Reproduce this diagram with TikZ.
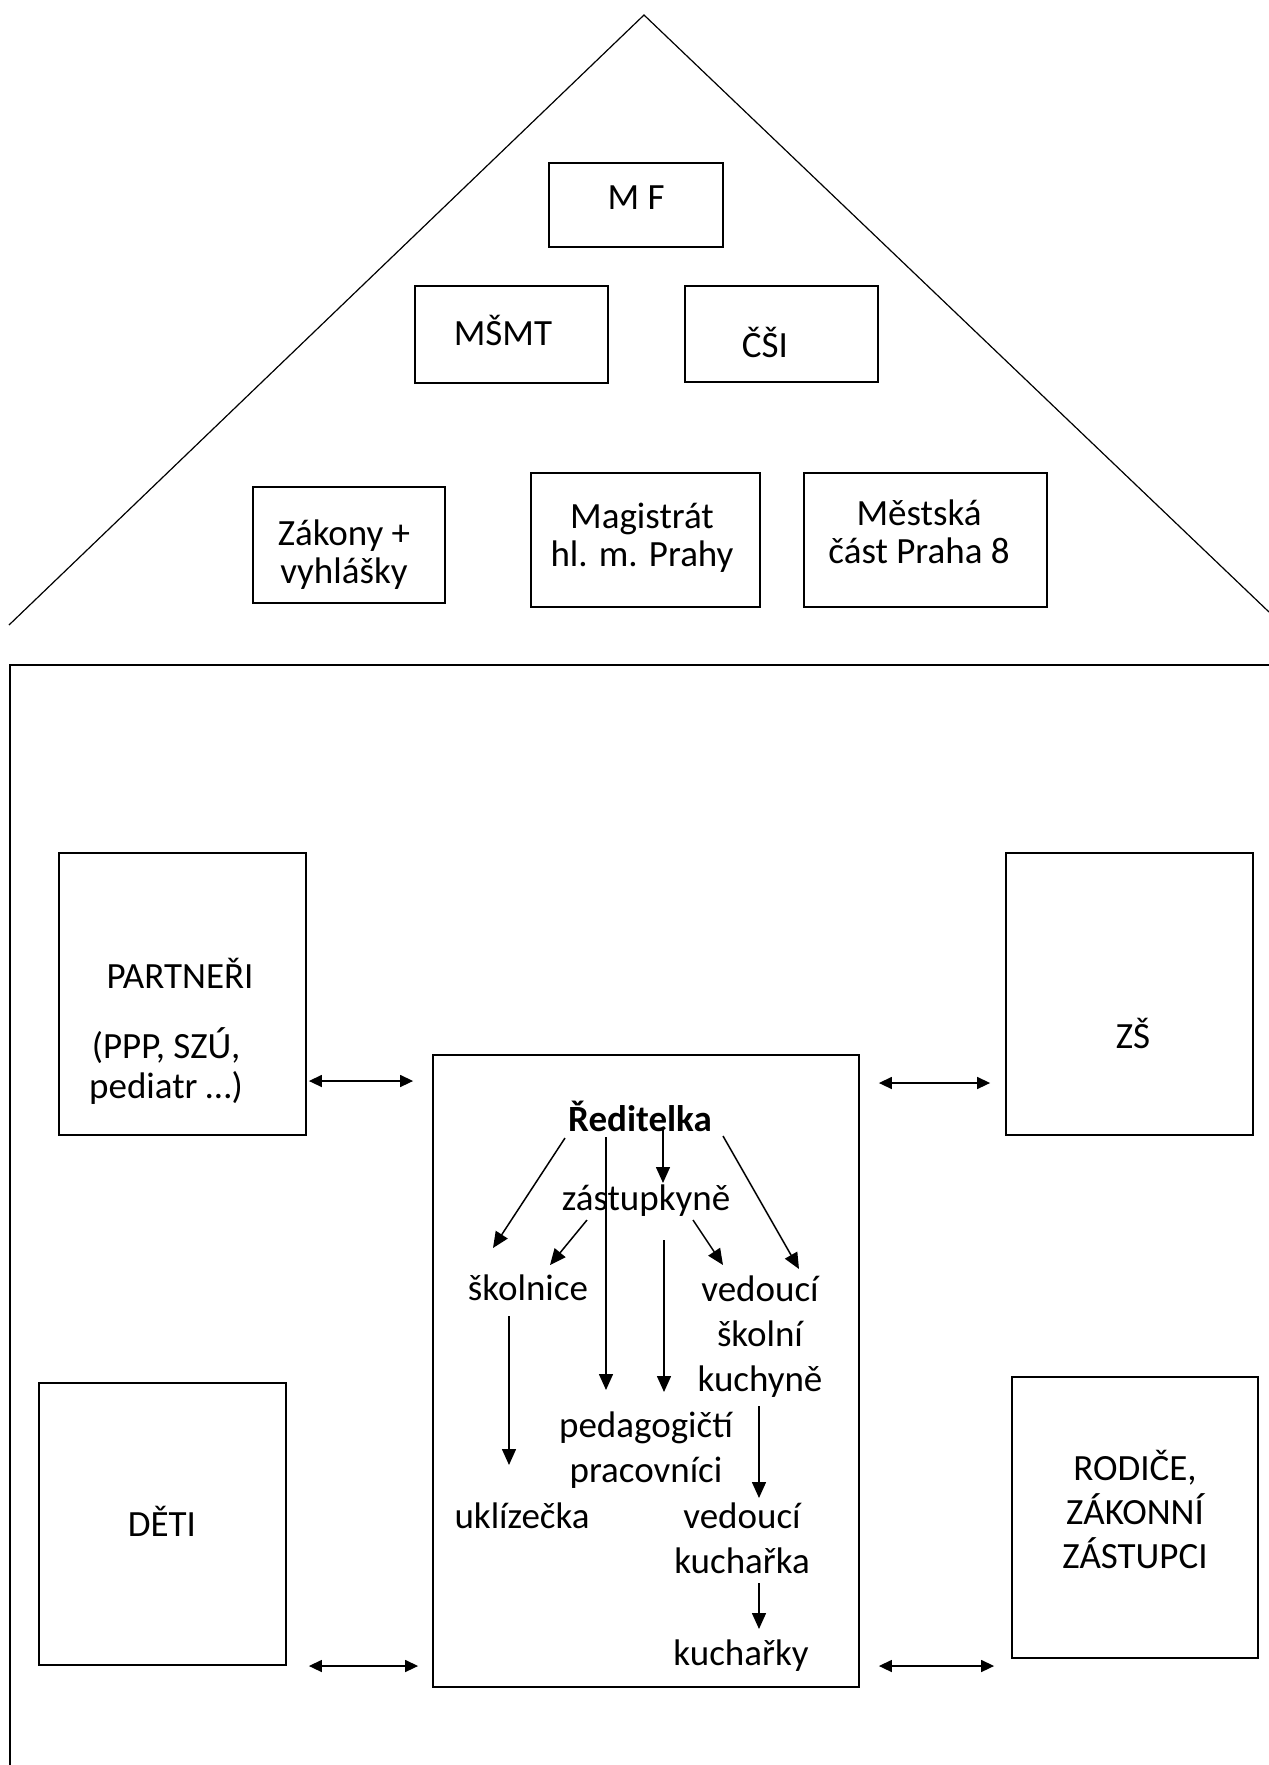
\documentclass[tikz,border=0pt]{standalone}
\usepackage{fontspec}
\setmainfont{Carlito}
\usetikzlibrary{arrows.meta, positioning}
\def\txtsize{\fontsize{37}{45}\selectfont}

\begin{document}
\begin{tikzpicture}[x=1pt,y=-1pt,line width=1.5pt]
    \tikzstyle{box}=[draw, rectangle, line width=1.8pt, inner sep=0pt]
    \tikzstyle{txt}=[anchor=base, align=center, inner sep=0pt, font=\txtsize]
    \tikzstyle{tight}=[txt, font=\fontsize{37}{38}\selectfont]
    \tikzstyle{arr}=[arrows={-Triangle[length=16pt,width=14pt]}]
    \tikzstyle{biarr}=[arrows={Triangle[length=13pt,width=12pt]-Triangle[length=13pt,width=12pt]}]

    \useasboundingbox (0,0) rectangle (1269,1765);

    % roof + walls
    \draw[line width=1.2pt] (9,625) -- (644,15) -- (1269,612);
    \draw (1269,665) -- (10,665) -- (10,1765);

    \foreach \n/\x/\y/\w/\h in {mf/636/205/174/84, msmt/511.5/334.5/193/97, csi/781.5/334/193/96,
        zak/349/545/192/116, mag/645.5/540/229/134, mc/925.5/540/243/134,
        part/182.5/994/247/282, zs/1129.5/994/247/282, deti/162.5/1524/247/282,
        rod/1135/1517.5/246/281, skola/646/1371/426/632}{
        \node[box, minimum width=\w pt, minimum height=\h pt] (B-\n) at (\x,\y) {};
    }

    % base = last line
    \node[txt] (T-mf) at (636,209) {M F};
    \node[txt] (T-msmt) at (503,345) {MŠMT};
    \node[txt] (T-csi) at (765,357) {ČŠI};
    \node[tight] (T-zak) at (344,583) {Zákony +\\vyhlášky};
    \node[tight] (T-mag) at (642,566) {Magistrát\\hl. m. Prahy};
    \node[tight] (T-mc) at (919,563) {Městská\\část Praha 8};

    \node[txt] (T-part) at (180,988) {PARTNEŘI};
    \node[txt, font=\fontsize{37}{40}\selectfont] (T-part2) at (166,1098) {(PPP, SZÚ,\\pediatr …)};
    \node[txt] (T-zs) at (1133,1048) {ZŠ};
    \node[txt] (T-deti) at (162,1536) {DĚTI};
    \node[txt, font=\fontsize{37}{44}\selectfont] (T-rod) at (1135,1568) {RODIČE,\\ZÁKONNÍ\\ZÁSTUPCI};

    % uvnitr skoly
    \node[txt] (red) at (640,1131) {\textbf{Ředitelka}};
    \node[txt] (zast) at (646,1210) {zástupkyně};
    \node[txt] (skol) at (528,1300) {školnice};
    \node[txt] (vedsk) at (760,1391) {vedoucí\\školní\\kuchyně};
    \node[txt] (ped) at (646,1482) {pedagogičtí\\pracovníci};
    \node[txt] (ukl) at (522,1528) {uklízečka};
    \node[txt] (vedk) at (742,1573) {vedoucí\\kuchařka};
    \node[txt] (kuch) at (741,1665) {kuchařky};

    \draw[arr] ([shift={(-75,7)}]red.base) -- ([shift={(-35,-52)}]skol.base);
    \draw[arr] ([shift={(-34,6)}]red.base) -- ([shift={(-40,-92)}]ped.base);
    \draw[arr] ([shift={(23,-3)}]red.base) -- ([shift={(17,-27)}]zast.base);
    \draw[arr] ([shift={(83,5)}]red.base) -- ([shift={(39,-122)}]vedsk.base);
    \draw[arr] ([shift={(-59,10)}]zast.base) -- ([shift={(22,-35)}]skol.base);
    \draw[arr] ([shift={(47,10)}]zast.base) -- ([shift={(-37,-126)}]vedsk.base);
    \draw[arr] ([shift={(18,30)}]zast.base) -- ([shift={(18,-90)}]ped.base);
    \draw[arr] ([shift={(-19,16)}]skol.base) -- ([shift={(-13,-63)}]ukl.base);
    \draw[arr] ([shift={(-1,15)}]vedsk.base) -- ([shift={(17,-75)}]vedk.base);
    \draw[arr] ([shift={(17,10)}]vedk.base) -- ([shift={(18,-36)}]kuch.base);

    \draw[biarr] ([shift={(2,87)}]B-part.east) -- ([shift={(-19,-290)}]B-skola.west);
    \draw[biarr] ([shift={(19,-288)}]B-skola.east) -- ([shift={(-15,89)}]B-zs.west);
    \draw[biarr] ([shift={(22,142)}]B-deti.east) -- ([shift={(-14,295)}]B-skola.west);
    \draw[biarr] ([shift={(19,295)}]B-skola.east) -- ([shift={(-17,148.5)}]B-rod.west);
\end{tikzpicture}
\end{document}
